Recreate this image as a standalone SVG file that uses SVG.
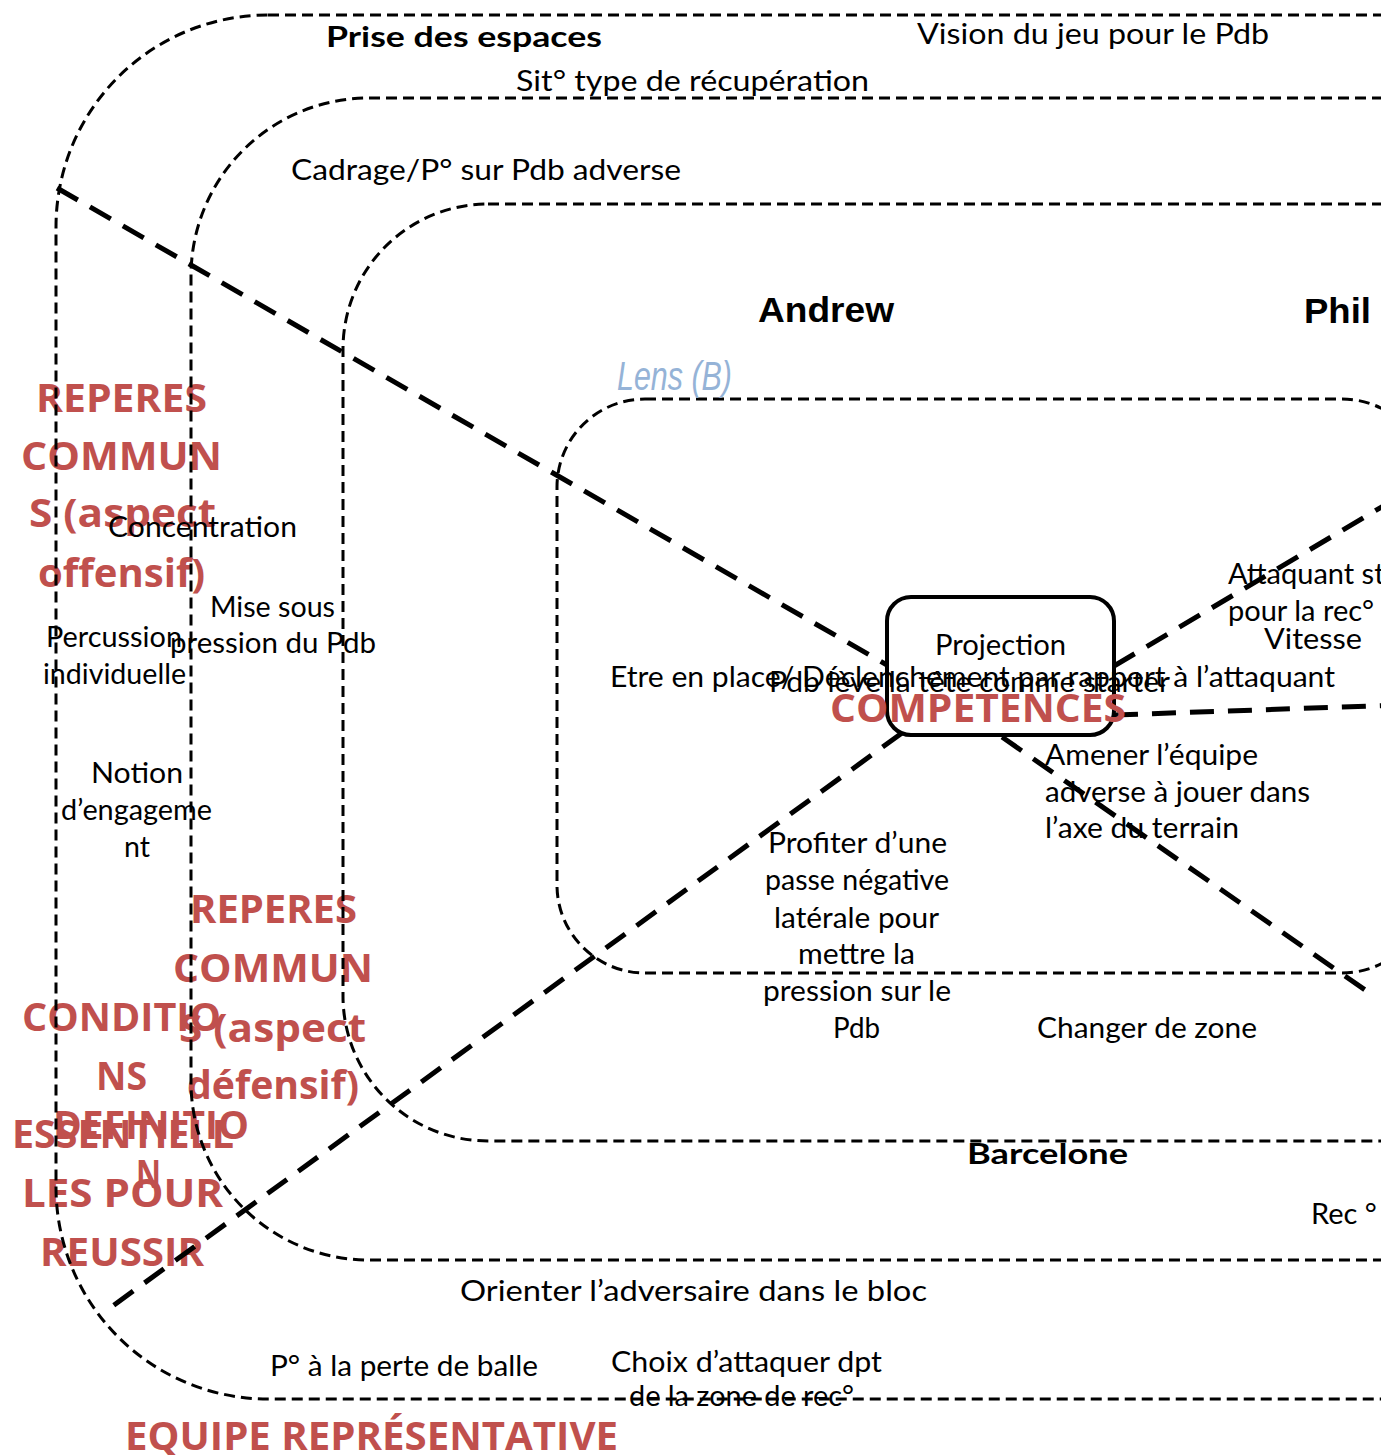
<svg xmlns="http://www.w3.org/2000/svg" width="1381" height="1455" viewBox="0 0 1381 1455">
<style>
.zone{fill:none;stroke:#000;stroke-width:3;stroke-dasharray:11 6}
.conn{fill:none;stroke:#000;stroke-width:5;stroke-dasharray:24 14}
.t{font-family:Lato,"Open Sans","Liberation Sans",sans-serif;font-size:29px;fill:#000}
.tb{font-family:Lato,"Open Sans","Liberation Sans",sans-serif;font-size:29px;font-weight:700;fill:#000}
.nm{font-family:"Liberation Sans",Arial,sans-serif;font-size:35px;font-weight:700;fill:#000}
.red{font-family:"Open Sans","Noto Sans","Liberation Sans",sans-serif;font-size:40px;font-weight:700;fill:#C0504D}
.lens{font-family:"Liberation Sans",Arial,sans-serif;font-size:40px;font-style:italic;fill:#95B3D7}
</style>
<rect width="1381" height="1455" fill="#fff"/>
<g id="red-labels">
<text class="red" x="36" y="412" textLength="171" lengthAdjust="spacingAndGlyphs">REPERES</text>
<text class="red" x="21" y="470" textLength="201" lengthAdjust="spacingAndGlyphs">COMMUN</text>
<text class="red" x="29" y="527" textLength="187" lengthAdjust="spacingAndGlyphs">S  (aspect</text>
<text class="red" x="38" y="587" textLength="167" lengthAdjust="spacingAndGlyphs">offensif)</text>
<text class="red" x="190" y="923" textLength="167" lengthAdjust="spacingAndGlyphs">REPERES</text>
<text class="red" x="173" y="982" textLength="200" lengthAdjust="spacingAndGlyphs">COMMUN</text>
<text class="red" x="179" y="1042" textLength="187" lengthAdjust="spacingAndGlyphs">S (aspect</text>
<text class="red" x="187" y="1099" textLength="172" lengthAdjust="spacingAndGlyphs">défensif)</text>
<text class="red" x="22" y="1031" textLength="199" lengthAdjust="spacingAndGlyphs">CONDITIO</text>
<text class="red" x="96" y="1090" textLength="51" lengthAdjust="spacingAndGlyphs">NS</text>
<text class="red" x="53" y="1139" textLength="196" lengthAdjust="spacingAndGlyphs">DEFINITIO</text>
<text class="red" x="12" y="1148" textLength="222" lengthAdjust="spacingAndGlyphs">ESSENTIELL</text>
<text class="red" x="136" y="1188" textLength="25" lengthAdjust="spacingAndGlyphs">N</text>
<text class="red" x="22" y="1207" textLength="201" lengthAdjust="spacingAndGlyphs">LES  POUR</text>
<text class="red" x="40" y="1266" textLength="164" lengthAdjust="spacingAndGlyphs">REUSSIR</text>
<text class="red" x="125" y="1450" textLength="493" lengthAdjust="spacingAndGlyphs">EQUIPE REPRÉSENTATIVE</text>
</g>
<g id="zones">
<rect id="zone-outer" class="zone" x="56" y="15" width="2000" height="1384" rx="212" ry="212"/>
<rect id="zone-2" class="zone" x="191" y="98" width="2000" height="1162" rx="178" ry="178"/>
<rect id="zone-3" class="zone" x="343" y="204" width="2000" height="937" rx="145" ry="145"/>
<rect id="zone-lens" class="zone" x="557" y="399" width="873" height="574" rx="88" ry="88"/>
</g>
<g id="connectors">
<path class="conn" d="M57,188 L887,665"/>
<path class="conn" d="M1002,737 L1368,992"/>
<path class="conn" d="M902,733 L103,1313"/>
<path class="conn" d="M1114,666 L1400,496"/>
<path class="conn" d="M1114,715 L1400,705"/>
</g>
<g id="node-projection">
<rect x="887" y="597" width="227" height="138" rx="24" ry="24" fill="none" stroke="#000" stroke-width="4"/>
<text class="t" x="935" y="655" textLength="131" lengthAdjust="spacingAndGlyphs">Projection</text>
</g>
<text class="red" x="830" y="722" textLength="296" lengthAdjust="spacingAndGlyphs">COMPETENCES</text>
<g id="labels">
<text class="tb" x="326" y="47" textLength="276" lengthAdjust="spacingAndGlyphs">Prise des espaces</text>
<text class="t" x="917" y="44" textLength="352" lengthAdjust="spacingAndGlyphs">Vision du jeu pour le Pdb</text>
<text class="t" x="516" y="91" textLength="353" lengthAdjust="spacingAndGlyphs">Sit° type de récupération</text>
<text class="t" x="291" y="180" textLength="390" lengthAdjust="spacingAndGlyphs">Cadrage/P° sur Pdb adverse</text>
<text class="nm" x="758" y="322" textLength="136" lengthAdjust="spacingAndGlyphs">Andrew</text>
<text class="nm" x="1304" y="323" textLength="67" lengthAdjust="spacingAndGlyphs">Phil</text>
<text class="lens" x="617" y="390" textLength="115" lengthAdjust="spacingAndGlyphs">Lens (B)</text>
<text class="t" x="108" y="537" textLength="189" lengthAdjust="spacingAndGlyphs">Concentration</text>
<text class="t" x="210" y="617" textLength="125" lengthAdjust="spacingAndGlyphs">Mise sous</text>
<text class="t" x="170" y="653" textLength="206" lengthAdjust="spacingAndGlyphs">pression du Pdb</text>
<text class="t" x="46" y="647" textLength="136" lengthAdjust="spacingAndGlyphs">Percussion</text>
<text class="t" x="43" y="684" textLength="143" lengthAdjust="spacingAndGlyphs">individuelle</text>
<text class="t" x="91" y="783" textLength="92" lengthAdjust="spacingAndGlyphs">Notion</text>
<text class="t" x="61" y="820" textLength="151" lengthAdjust="spacingAndGlyphs">d’engageme</text>
<text class="t" x="124" y="857" textLength="26" lengthAdjust="spacingAndGlyphs">nt</text>
<text class="t" x="610" y="687" textLength="725" lengthAdjust="spacingAndGlyphs">Etre en place/ Déclenchement par rapport à l’attaquant</text>
<text class="t" x="769" y="692" textLength="401" lengthAdjust="spacingAndGlyphs">Pdb lève la tête comme starter</text>
<text class="t" x="1228" y="584">Attaquant st</text>
<text class="t" x="1228" y="621">pour la rec°</text>
<text class="t" x="1264" y="649" textLength="98" lengthAdjust="spacingAndGlyphs">Vitesse</text>
<text class="t" x="1045" y="765" textLength="213" lengthAdjust="spacingAndGlyphs">Amener l’équipe</text>
<text class="t" x="1045" y="802" textLength="265" lengthAdjust="spacingAndGlyphs">adverse à jouer dans</text>
<text class="t" x="1045" y="838" textLength="194" lengthAdjust="spacingAndGlyphs">l’axe du terrain</text>
<text class="t" x="768" y="853" textLength="179" lengthAdjust="spacingAndGlyphs">Profiter d’une</text>
<text class="t" x="765" y="890" textLength="184" lengthAdjust="spacingAndGlyphs">passe négative</text>
<text class="t" x="774" y="928" textLength="165" lengthAdjust="spacingAndGlyphs">latérale pour</text>
<text class="t" x="798" y="964" textLength="117" lengthAdjust="spacingAndGlyphs">mettre la</text>
<text class="t" x="763" y="1001" textLength="188" lengthAdjust="spacingAndGlyphs">pression sur le</text>
<text class="t" x="833" y="1038" textLength="47" lengthAdjust="spacingAndGlyphs">Pdb</text>
<text class="t" x="1037" y="1038" textLength="220" lengthAdjust="spacingAndGlyphs">Changer de zone</text>
<text class="tb" x="967" y="1164" textLength="161" lengthAdjust="spacingAndGlyphs">Barcelone</text>
<text class="t" x="1311" y="1224">Rec °</text>
<text class="t" x="460" y="1301" textLength="467" lengthAdjust="spacingAndGlyphs">Orienter l’adversaire dans le bloc</text>
<text class="t" x="270" y="1376" textLength="268" lengthAdjust="spacingAndGlyphs">P° à la perte de balle</text>
<text class="t" x="611" y="1372" textLength="271" lengthAdjust="spacingAndGlyphs">Choix d’attaquer dpt</text>
<text class="t" x="629" y="1406" textLength="225" lengthAdjust="spacingAndGlyphs">de la zone de rec°</text>
</g>
</svg>
